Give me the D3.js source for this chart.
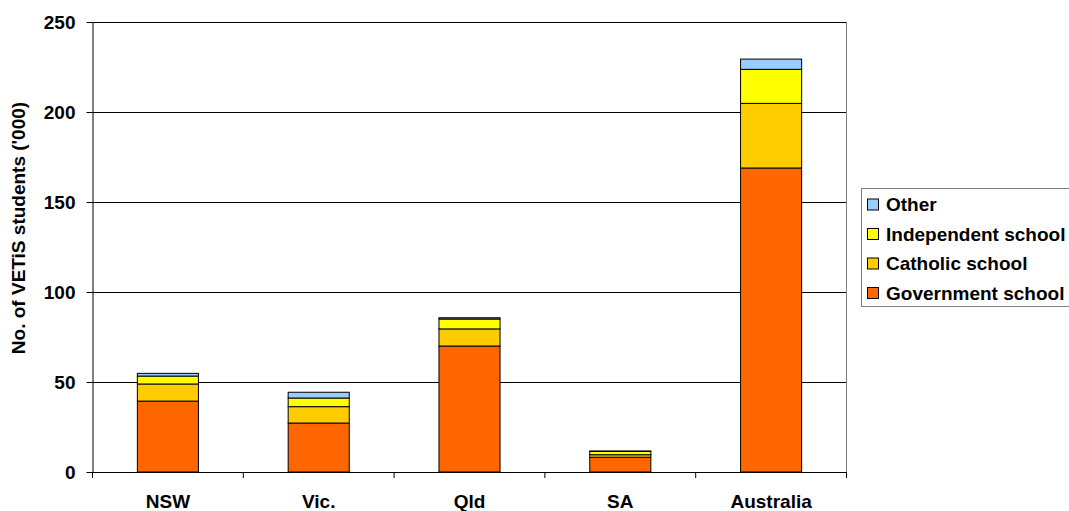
<!DOCTYPE html>
<html>
<head>
<meta charset="utf-8">
<script src="https://cdn.jsdelivr.net/npm/d3@7"></script>
<style>
  html, body { margin: 0; padding: 0; background: #fff; }
  svg { display: block; font-family: "Liberation Sans", Arial, sans-serif; font-weight: bold; }
</style>
</head>
<body>
<svg id="chart" width="1069" height="511"></svg>
<script>
// VETiS students by state and school sector ('000)
const categories = ["NSW", "Vic.", "Qld", "SA", "Australia"];
const government  = [39.4, 27.2, 70.0, 8.2, 168.9];
const catholic    = [9.5, 9.1, 9.5, 1.4, 35.9];
const independent = [4.4, 4.8, 5.5, 1.8, 18.9];
const other       = [1.5, 3.2, 0.7, 0.3, 5.7];
const seriesNames = ["Government school", "Catholic school", "Independent school", "Other"];
const seriesColors = ["#FF6600", "#FFCC00", "#FFFF00", "#99CCFF"];
const yTicks = [0, 50, 100, 150, 200, 250];
const yTitle = "No. of VETiS students ('000)";

const svg = d3.select("#chart");
const plotLeft = 92.5, plotRight = 846.5, plotTop = 22, plotBottom = 472;
const fontSize = 19;

const x = d3.scaleBand().domain(categories).range([plotLeft, plotRight]).padding(0);
const y = d3.scaleLinear().domain([0, 250]).range([plotBottom, plotTop]);
const barW = x.bandwidth() * 0.405;

// gridlines
svg.append("g")
  .selectAll("line")
  .data(yTicks.filter(d => d > 0))
  .join("line")
  .attr("x1", plotLeft).attr("x2", plotRight)
  .attr("y1", d => Math.round(y(d)) + 0.5).attr("y2", d => Math.round(y(d)) + 0.5)
  .attr("stroke", "#000").attr("stroke-width", 1);

// plot area right border
svg.append("line")
  .attr("x1", plotRight).attr("x2", plotRight).attr("y1", plotTop).attr("y2", plotBottom)
  .attr("stroke", "#808080").attr("stroke-width", 1);

// stacked bars
const rows = categories.map((c, i) => ({
  cat: c,
  "Government school": government[i],
  "Catholic school": catholic[i],
  "Independent school": independent[i],
  "Other": other[i]
}));
const stack = d3.stack().keys(seriesNames)(rows);

svg.append("g")
  .selectAll("g")
  .data(stack)
  .join("g")
  .attr("fill", (d, i) => seriesColors[i])
  .selectAll("rect")
  .data(d => d)
  .join("rect")
  .attr("x", d => x(d.data.cat) + (x.bandwidth() - barW) / 2)
  .attr("width", barW)
  .attr("y", d => y(d[1]))
  .attr("height", d => y(d[0]) - y(d[1]))
  .attr("stroke", "#000")
  .attr("stroke-width", 1);

// y axis
const yAxis = svg.append("g")
  .attr("transform", `translate(${plotLeft},0)`)
  .call(d3.axisLeft(y).tickValues(yTicks).tickSize(6).tickPadding(11).tickSizeOuter(0));
yAxis.select(".domain").attr("stroke", "#000");
yAxis.selectAll(".tick line").attr("stroke", "#000");
yAxis.selectAll("text")
  .attr("font-size", fontSize).attr("font-weight", "bold")
  .attr("font-family", "Liberation Sans, Arial, sans-serif").attr("fill", "#000");

// x axis: labels at band centres, ticks at band boundaries
const xAxis = svg.append("g")
  .attr("transform", `translate(0,${plotBottom})`)
  .call(d3.axisBottom(x).tickSize(0).tickSizeOuter(0));
xAxis.select(".domain").attr("stroke", "#000");
xAxis.selectAll("text")
  .attr("y", 36).attr("dy", 0)
  .attr("font-size", fontSize).attr("font-weight", "bold")
  .attr("font-family", "Liberation Sans, Arial, sans-serif").attr("fill", "#000");
const bounds = categories.map(c => x(c)).concat([x(categories[categories.length - 1]) + x.bandwidth()]);
xAxis.append("g")
  .selectAll("line")
  .data(bounds)
  .join("line")
  .attr("x1", d => d).attr("x2", d => d)
  .attr("y1", 0).attr("y2", 6)
  .attr("stroke", "#000");

// y axis title
svg.append("text")
  .attr("transform", "translate(25,228) rotate(-90)")
  .attr("text-anchor", "middle")
  .attr("font-size", fontSize)
  .attr("fill", "#000")
  .text(yTitle);

// legend
const legend = svg.append("g");
legend.append("rect")
  .attr("x", 861.5).attr("y", 188.5)
  .attr("width", 260).attr("height", 118)
  .attr("fill", "#fff").attr("stroke", "#808080").attr("stroke-width", 1);
const legendOrder = [3, 2, 1, 0];
const items = legend.selectAll("g.item")
  .data(legendOrder)
  .join("g")
  .attr("class", "item")
  .attr("transform", (d, i) => `translate(0,${204.5 + i * 29.5})`);
items.append("rect")
  .attr("x", 867.5).attr("y", -5.5)
  .attr("width", 11).attr("height", 11)
  .attr("fill", d => seriesColors[d])
  .attr("stroke", "#000").attr("stroke-width", 1);
items.append("text")
  .attr("x", 886).attr("y", 0).attr("dy", "0.36em")
  .attr("font-size", fontSize).attr("fill", "#000")
  .text(d => seriesNames[d]);
</script>
</body>
</html>
